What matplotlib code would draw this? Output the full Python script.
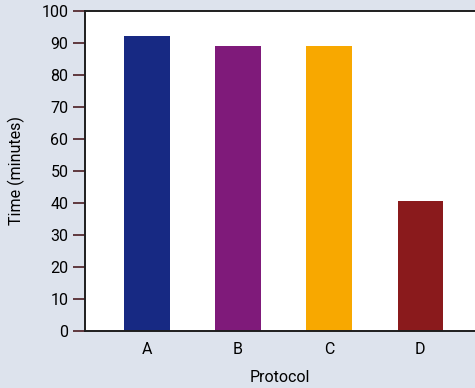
import matplotlib.pyplot as plt

# data
protocols = ["A", "B", "C", "D"]
times = [92, 89, 89, 40.6]
bar_colors = ["#172983", "#7f1a7a", "#f8a800", "#8a1a1c"]
y_ticks = [0, 10, 20, 30, 40, 50, 60, 70, 80, 90, 100]

plt.rcParams['font.family'] = ['Roboto', 'DejaVu Sans']

fig = plt.figure(figsize=(4.75, 3.88), dpi=100)
fig.patch.set_facecolor("#dde3ed")
ax = fig.add_axes([0.179, 0.147, 0.821, 0.825])
ax.set_facecolor("white")

ax.bar(protocols, times, width=0.5, color=bar_colors)

ax.set_ylim(0, 100)
ax.set_xlim(-0.68, 3.6)
ax.set_yticks(y_ticks)

ax.set_xlabel("Protocol", fontsize=11.5, labelpad=9)
ax.set_ylabel("Time (minutes)", fontsize=11.5, labelpad=12)

for side in ["left", "bottom", "top"]:
    ax.spines[side].set_linewidth(1.4)
    ax.spines[side].set_color("#1e1e1e")
ax.spines["right"].set_visible(False)

ax.tick_params(axis="y", length=8.5, width=1.2, color="#4a1c22", labelsize=11.5, pad=3.5)
ax.tick_params(axis="x", length=0, labelsize=11.5, pad=8)

fig.savefig("out.png", dpi=100, facecolor=fig.get_facecolor())
